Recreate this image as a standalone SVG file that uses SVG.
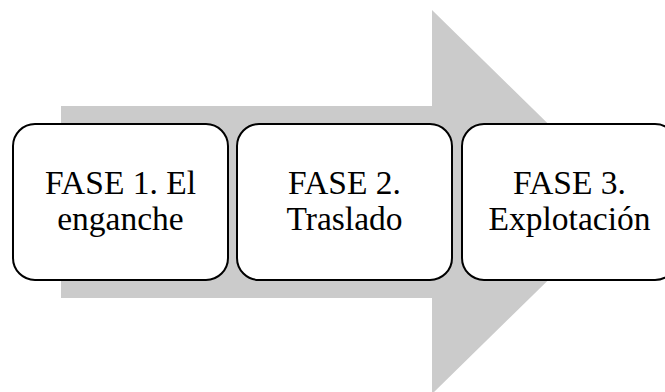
<svg xmlns="http://www.w3.org/2000/svg" width="665" height="392" viewBox="0 0 665 392">
<style>
.box{fill:#fff;stroke:#000;stroke-width:2}
.t{font-family:"Liberation Serif","Times New Roman",serif;font-size:33.5px;fill:#000;text-anchor:middle}
</style>
<rect width="665" height="392" fill="#fff"/>
<g id="arrow">
<polygon points="61,106 432,106 432,10 628,202 432,394 432,298 61,298" fill="#cbcbcb"/>
</g>
<g id="connectors"></g>
<g id="fase1">
<rect class="box" x="13" y="124" width="215" height="156" rx="22"/>
<text class="t" x="120.5" y="194">FASE 1. El</text>
<text class="t" x="120.5" y="230">enganche</text>
</g>
<g id="fase2">
<rect class="box" x="237" y="124" width="215" height="156" rx="22"/>
<text class="t" x="344.5" y="194">FASE 2.</text>
<text class="t" x="344.5" y="230">Traslado</text>
</g>
<g id="fase3">
<rect class="box" x="462" y="124" width="215" height="156" rx="22"/>
<text class="t" x="569.5" y="194">FASE 3.</text>
<text class="t" x="569.5" y="230">Explotación</text>
</g>
</svg>
